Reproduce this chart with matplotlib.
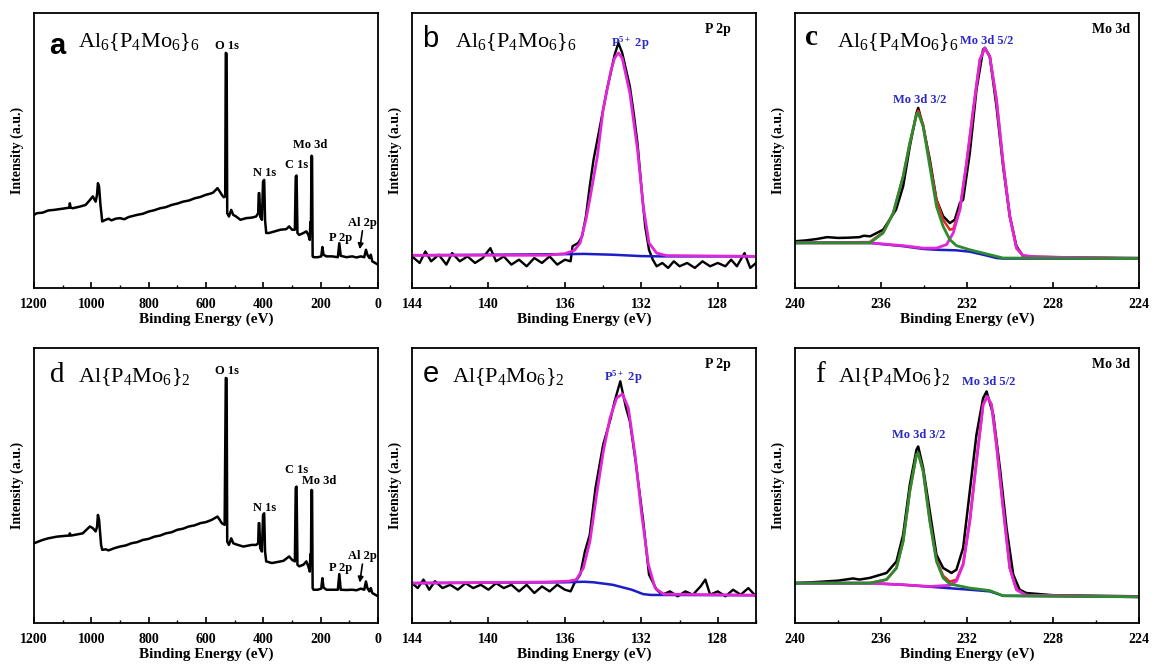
import matplotlib
matplotlib.use("Agg")
import matplotlib.pyplot as plt
from matplotlib.ticker import MultipleLocator

plt.rcParams['font.family'] = ['Liberation Serif', 'DejaVu Serif']
plt.rcParams['mathtext.fontset'] = 'custom'
plt.rcParams['mathtext.rm'] = 'Liberation Serif'
plt.rcParams['mathtext.default'] = 'regular'

# ---- survey spectra (binding energy eV, normalised intensity) ----
survey_a = [
    (1200, .266), (1190, .272), (1170, .274), (1150, .282), (1130, .284), (1110, .287),
    (1090, .290), (1077, .292), (1075, .308), (1072, .292), (1065, .290), (1040, .296),
    (1020, .302), (1005, .320), (995, .333), (985, .314), (980, .340), (977, .381),
    (973, .369), (968, .300), (965, .272), (962, .242), (950, .248), (940, .252),
    (930, .246), (915, .252), (900, .254), (885, .250), (870, .258), (855, .262),
    (840, .266), (820, .270), (800, .278), (780, .283), (760, .290), (740, .294),
    (720, .302), (700, .307), (680, .314), (660, .318), (640, .326), (620, .331),
    (600, .339), (585, .343), (575, .347), (560, .363), (552, .351), (545, .339),
    (538, .330), (533, .333), (531, .855), (528, .852), (526, .272), (520, .260),
    (512, .284), (505, .266), (495, .260), (480, .248), (460, .254), (440, .256),
    (425, .260), (418, .272), (416, .345), (414, .345), (411, .260), (405, .248),
    (401, .387), (397, .393), (394, .248), (390, .200), (380, .200), (360, .206),
    (340, .212), (320, .214), (310, .224), (300, .212), (290, .212), (287, .405),
    (284, .409), (281, .200), (275, .193), (260, .200), (250, .206), (243, .193),
    (238, .175), (236, .240), (234, .205), (232, .481), (230, .478), (228, .115),
    (225, .112), (210, .112), (198, .115), (194, .149), (190, .121), (180, .115),
    (160, .115), (140, .112), (135, .163), (130, .117), (110, .112), (90, .115), (75, .111),
    (60, .115), (48, .112), (42, .139), (37, .121), (30, .109), (25, .121),
    (20, .097), (10, .091), (0, .085)]

survey_d = [
    (1200, .290), (1185, .296), (1170, .302), (1150, .308), (1120, .314), (1090, .317),
    (1077, .318), (1075, .326), (1072, .318), (1060, .320), (1030, .326), (1005, .351),
    (995, .345), (985, .333), (980, .350), (977, .393), (973, .375), (968, .310),
    (966, .284), (962, .266), (950, .268), (940, .264), (920, .272), (900, .278),
    (880, .282), (860, .290), (840, .294), (820, .302), (800, .306), (780, .314),
    (760, .318), (740, .326), (720, .330), (700, .339), (680, .343), (660, .351),
    (640, .355), (620, .363), (600, .367), (580, .375), (560, .387), (552, .375),
    (545, .363), (535, .357), (531, .891), (528, .889), (526, .296), (520, .284),
    (512, .308), (505, .290), (495, .286), (470, .278), (440, .284), (425, .284),
    (418, .290), (416, .363), (414, .363), (411, .272), (405, .260), (401, .393),
    (397, .399), (394, .260), (390, .224), (370, .218), (350, .222), (330, .226),
    (310, .242), (300, .230), (290, .224), (287, .492), (284, .496), (281, .212),
    (275, .206), (260, .212), (250, .224), (243, .206), (238, .187), (236, .250),
    (234, .215), (232, .484), (230, .481), (228, .127), (225, .121), (210, .121),
    (198, .125), (194, .163), (190, .129), (180, .121), (160, .121), (140, .121),
    (135, .178), (130, .121), (110, .120), (90, .121), (75, .119), (60, .125), (48, .121),
    (42, .151), (37, .127), (30, .115), (25, .127), (20, .109), (10, .103), (0, .097)]

survey_a_labels = [("O 1s", 528, .880), ("N 1s", 394, .418), ("C 1s", 283, .447),
                   ("Mo 3d", 236, .520), ("P 2p", 130, .183), ("Al 2p", 53, .236)]
survey_d_labels = [("O 1s", 528, .915), ("N 1s", 394, .417), ("C 1s", 283, .555),
                   ("Mo 3d", 204, .516), ("P 2p", 132, .200), ("Al 2p", 53, .242)]

# ---- P 2p high resolution ----
p2p_b_raw = [
    (144.0, .115), (143.6, .091), (143.3, .133), (143.0, .097), (142.6, .121), (142.2, .085),
    (141.9, .127), (141.5, .097), (141.1, .115), (140.7, .091), (140.3, .109), (139.9, .145),
    (139.6, .097), (139.2, .115), (138.8, .085), (138.4, .103), (138.0, .079), (137.6, .109),
    (137.2, .091), (136.8, .115), (136.4, .085), (136.0, .103), (135.7, .097), (135.6, .152),
    (135.3, .164), (135.1, .188), (134.9, .261), (134.7, .370), (134.5, .467), (134.3, .539),
    (134.0, .648), (133.8, .721), (133.6, .782), (133.4, .848), (133.2, .891), (133.0, .855),
    (132.8, .794), (132.6, .733), (132.4, .636), (132.2, .527), (132.0, .370), (131.8, .224),
    (131.6, .139), (131.4, .103), (131.2, .079), (130.9, .091), (130.6, .073), (130.3, .097),
    (130.0, .079), (129.6, .091), (129.2, .073), (128.8, .097), (128.4, .079), (128.0, .091),
    (127.6, .079), (127.3, .103), (127.0, .079), (126.6, .127), (126.3, .073), (126.0, .091)]
p2p_b_fit = [
    (144, .119), (137, .119), (136, .125), (135.5, .137), (135.2, .164), (134.9, .248),
    (134.7, .321), (134.3, .479), (134.0, .648), (133.6, .788), (133.4, .836), (133.2, .855),
    (133.0, .836), (132.6, .709), (132.2, .503), (131.9, .297), (131.6, .164), (131.2, .127),
    (130.7, .118), (126, .115)]
p2p_b_bg = [(144, .119), (136, .123), (135, .124), (133.5, .121), (132, .116), (131, .115), (126, .115)]

p2p_e_raw = [
    (144.0, .145), (143.7, .127), (143.4, .158), (143.1, .121), (142.8, .152), (142.4, .127),
    (142.0, .139), (141.6, .121), (141.2, .145), (140.8, .127), (140.4, .139), (140.0, .121),
    (139.6, .145), (139.2, .127), (138.8, .139), (138.4, .115), (138.0, .139), (137.6, .109),
    (137.2, .133), (136.8, .115), (136.4, .139), (136.0, .121), (135.7, .115), (135.5, .145),
    (135.2, .176), (134.95, .261), (134.7, .321), (134.4, .491), (134.0, .648), (133.6, .745),
    (133.4, .806), (133.1, .879), (132.95, .830), (132.8, .782), (132.6, .733), (132.3, .588),
    (131.9, .370), (131.6, .176), (131.2, .121), (130.9, .103), (130.5, .115), (130.1, .097),
    (129.7, .115), (129.3, .103), (128.9, .133), (128.65, .158), (128.4, .103), (128.0, .115),
    (127.6, .097), (127.2, .121), (126.8, .103), (126.4, .127), (126.0, .097)]
p2p_e_fit = [
    (144, .145), (137, .149), (135.8, .152), (135.4, .158), (135.03, .200), (134.69, .297),
    (134.34, .467), (133.99, .624), (133.64, .745), (133.29, .818), (132.99, .833),
    (132.68, .782), (132.33, .612), (131.98, .394), (131.63, .212), (131.28, .127),
    (130.84, .105), (126, .101)]
p2p_e_bg = [(144, .145), (136, .148), (135, .150), (134.5, .148), (133.5, .139), (132.5, .121),
            (131.9, .105), (131.5, .102), (126, .101)]

# ---- Mo 3d high resolution ----
mo3d_c_raw = [
    (240, .170), (239.5, .173), (239.0, .178), (238.5, .185), (238.0, .182), (237.5, .183),
    (237.0, .185), (236.8, .190), (236.5, .188), (235.9, .212), (235.6, .248), (235.3, .285),
    (234.97, .370), (234.66, .515), (234.35, .636), (234.27, .655), (234.04, .588),
    (233.73, .467), (233.42, .321), (233.11, .261), (232.8, .236), (232.57, .248),
    (232.33, .309), (232.18, .321), (231.87, .491), (231.56, .721), (231.25, .867),
    (231.17, .873), (230.94, .842), (230.63, .661), (230.32, .442), (230.01, .261),
    (229.7, .152), (229.39, .115), (228.77, .113), (226, .110), (224, .109)]
mo3d_c_env = [
    (240, .164), (236.52, .167), (235.9, .203), (235.43, .273), (234.97, .406), (234.66, .527),
    (234.35, .630), (234.27, .645), (234.04, .594), (233.73, .455), (233.42, .321),
    (233.11, .248), (232.8, .212), (232.64, .215), (232.33, .287), (232.02, .455),
    (231.71, .648), (231.4, .830), (231.17, .873), (230.94, .842), (230.63, .685),
    (230.32, .455), (230.01, .261), (229.7, .145), (229.39, .118), (228.77, .113), (224, .107)]
mo3d_c_32 = [
    (240, .164), (236.52, .164), (235.9, .200), (235.43, .273), (234.97, .406), (234.66, .527),
    (234.35, .630), (234.27, .636), (234.04, .588), (233.73, .442), (233.42, .297),
    (233.11, .224), (232.8, .176), (232.49, .154), (231.87, .139), (231.25, .127),
    (230.63, .115), (230.32, .109), (224, .107)]
mo3d_c_52 = [
    (240, .164), (236.52, .164), (234.97, .154), (234.04, .145), (233.42, .145), (232.95, .158),
    (232.64, .200), (232.33, .285), (232.02, .455), (231.71, .648), (231.4, .830),
    (231.17, .873), (230.94, .842), (230.63, .685), (230.32, .455), (230.01, .261),
    (229.7, .145), (229.39, .118), (228.77, .113), (224, .107)]
mo3d_c_bg = [(240, .164), (236.52, .164), (234.97, .152), (234.04, .142), (233.42, .139),
             (232.49, .137), (231.87, .132), (231.25, .121), (230.63, .109), (230.32, .107), (224, .107)]

mo3d_f_raw = [
    (240, .145), (239.0, .149), (238.0, .154), (237.3, .162), (237.0, .158), (236.52, .164),
    (235.74, .182), (235.28, .224), (234.97, .321), (234.66, .503), (234.35, .630),
    (234.27, .642), (234.04, .564), (233.73, .406), (233.42, .248), (233.11, .200),
    (232.72, .182), (232.49, .194), (232.18, .273), (231.87, .479), (231.56, .685),
    (231.25, .818), (231.09, .842), (230.78, .758), (230.47, .564), (230.16, .345),
    (229.85, .176), (229.55, .121), (229.24, .109), (228, .101), (224, .097)]
mo3d_f_env = [
    (240, .145), (236.52, .145), (235.74, .158), (235.28, .200), (234.97, .297), (234.66, .479),
    (234.35, .612), (234.27, .618), (234.04, .552), (233.73, .373), (233.42, .230),
    (233.11, .172), (232.8, .150), (232.49, .158), (232.18, .215), (231.87, .372),
    (231.56, .588), (231.25, .794), (231.06, .824), (230.86, .794), (230.63, .648),
    (230.32, .418), (230.01, .200), (229.7, .121), (229.24, .101), (224, .095)]
mo3d_f_32 = [
    (240, .145), (236.52, .145), (235.74, .158), (235.28, .200), (234.97, .297), (234.66, .479),
    (234.35, .612), (234.27, .618), (234.04, .552), (233.73, .370), (233.42, .224),
    (233.11, .164), (232.8, .142), (231.87, .127), (230.94, .118), (230.32, .099), (224, .095)]
mo3d_f_52 = [
    (240, .145), (236.52, .145), (234.97, .139), (233.73, .133), (232.8, .137), (232.49, .152),
    (232.18, .212), (231.87, .370), (231.56, .588), (231.25, .794), (231.06, .824),
    (230.86, .794), (230.63, .648), (230.32, .418), (230.01, .200), (229.7, .121),
    (229.24, .101), (224, .095)]
mo3d_f_bg = [(240, .145), (236.52, .145), (234.97, .139), (233.42, .130), (231.87, .121),
             (230.94, .115), (230.32, .099), (224, .095)]

formula_top = r"Al$_6${P$_4$Mo$_6$}$_6$"
formula_bottom = r"Al{P$_4$Mo$_6$}$_2$"

MAGENTA = '#e225d6'
GREEN = '#2e8b2e'
BLUE = '#1c1cc8'
RED = '#e02a1f'
LABEL_BLUE = '#2b2bc4'

W, H = 1153, 668
fig = plt.figure(figsize=(W / 100, H / 100), dpi=100)


def make_axes(left_px, top_px):
    return fig.add_axes([left_px / W, 1 - (top_px + 275) / H, 344 / W, 275 / H])


def style_axes(ax, xlim, major, minor):
    ax.set_xlim(*xlim)
    ax.set_ylim(0, 1)
    ax.set_yticks([])
    ax.xaxis.set_major_locator(MultipleLocator(major))
    ax.xaxis.set_minor_locator(MultipleLocator(minor))
    ax.tick_params(axis='x', which='both', direction='in', top=False, labelsize=10, pad=7)
    ax.tick_params(axis='x', which='major', length=4, width=1.2)
    ax.tick_params(axis='x', which='minor', length=2.5, width=1.0)
    for lbl in ax.get_xticklabels():
        lbl.set_fontweight('bold')
    for sp in ax.spines.values():
        sp.set_linewidth(1.3)
    ax.set_xlabel('Binding Energy (eV)', fontsize=11, fontweight='bold', labelpad=1)
    ax.set_ylabel('Intensity (a.u.)', fontsize=10, fontweight='bold', labelpad=7)


def panel_title(ax, letter, letter_font, letter_weight, lx, ly, formula, fx):
    ax.text(lx, ly, letter, transform=ax.transAxes, fontsize=21, family=letter_font,
            fontweight=letter_weight, va='baseline', ha='left')
    ax.text(fx, 0.876, formula, transform=ax.transAxes, fontsize=16, va='baseline', ha='left')


def xy(points):
    return [p[0] for p in points], [p[1] for p in points]


def draw_survey(ax, data, labels):
    ax.plot(*xy(data), color='black', lw=1.8)
    for txt, e, i in labels:
        ax.text(e, i, txt, fontsize=9, fontweight='bold', ha='center', va='center')
    al = labels[-1]
    ax.annotate('', xy=(65, al[2] - 0.105), xytext=(53, al[2] - 0.018),
                arrowprops=dict(arrowstyle='-|>', color='black', lw=1.2, mutation_scale=8))
    style_axes(ax, (1200, 0), 200, 100)


def draw_p2p(ax, raw, fit, bg, lab_pos):
    ax.plot(*xy(raw), color='black', lw=1.7)
    ax.plot(*xy(bg), color=BLUE, lw=1.8)
    ax.plot(*xy(fit), color=MAGENTA, lw=2.0)
    ax.text(lab_pos[0], lab_pos[1], r"P$^{5+}$ 2p", color=LABEL_BLUE, fontsize=9,
            fontweight='bold', ha='center', va='center')
    ax.text(0.89, 0.94, "P 2p", transform=ax.transAxes, fontsize=10, fontweight='bold',
            ha='center', va='center')
    style_axes(ax, (144, 126), 4, 2)


def draw_mo3d(ax, raw, env, p32, p52, bg, pos32, pos52):
    ax.plot(*xy(raw), color='black', lw=1.8)
    ax.plot(*xy(env), color=RED, lw=1.8)
    ax.plot(*xy(bg), color=BLUE, lw=1.8)
    ax.plot(*xy(p52), color=MAGENTA, lw=2.0)
    ax.plot(*xy(p32), color=GREEN, lw=2.0)
    ax.text(pos32[0], pos32[1], "Mo 3d 3/2", color=LABEL_BLUE, fontsize=9,
            fontweight='bold', ha='center', va='center')
    ax.text(pos52[0], pos52[1], "Mo 3d 5/2", color=LABEL_BLUE, fontsize=9,
            fontweight='bold', ha='center', va='center')
    ax.text(0.92, 0.94, "Mo 3d", transform=ax.transAxes, fontsize=10, fontweight='bold',
            ha='center', va='center')
    style_axes(ax, (240, 224), 4, 2)


ax_a = make_axes(34, 13)
draw_survey(ax_a, survey_a, survey_a_labels)
panel_title(ax_a, 'a', 'Liberation Sans', 'bold', 0.045, 0.85, formula_top, 0.128)

ax_b = make_axes(412, 13)
draw_p2p(ax_b, p2p_b_raw, p2p_b_fit, p2p_b_bg, (132.6, 0.89))
panel_title(ax_b, 'b', 'Liberation Sans', 'normal', 0.03, 0.876, formula_top, 0.125)

ax_c = make_axes(795, 13)
draw_mo3d(ax_c, mo3d_c_raw, mo3d_c_env, mo3d_c_32, mo3d_c_52, mo3d_c_bg,
          (234.2, 0.685), (231.1, 0.897))
panel_title(ax_c, 'c', 'Liberation Serif', 'bold', 0.03, 0.884, formula_top, 0.122)

ax_d = make_axes(34, 348)
draw_survey(ax_d, survey_d, survey_d_labels)
panel_title(ax_d, 'd', 'Liberation Serif', 'normal', 0.047, 0.876, formula_bottom, 0.128)

ax_e = make_axes(412, 348)
draw_p2p(ax_e, p2p_e_raw, p2p_e_fit, p2p_e_bg, (132.94, 0.893))
panel_title(ax_e, 'e', 'Liberation Sans', 'normal', 0.032, 0.876, formula_bottom, 0.116)

ax_f = make_axes(795, 348)
draw_mo3d(ax_f, mo3d_f_raw, mo3d_f_env, mo3d_f_32, mo3d_f_52, mo3d_f_bg,
          (234.27, 0.682), (231.0, 0.876))
panel_title(ax_f, 'f', 'Liberation Serif', 'normal', 0.058, 0.876, formula_bottom, 0.125)

fig.savefig('out.png', dpi=100)
